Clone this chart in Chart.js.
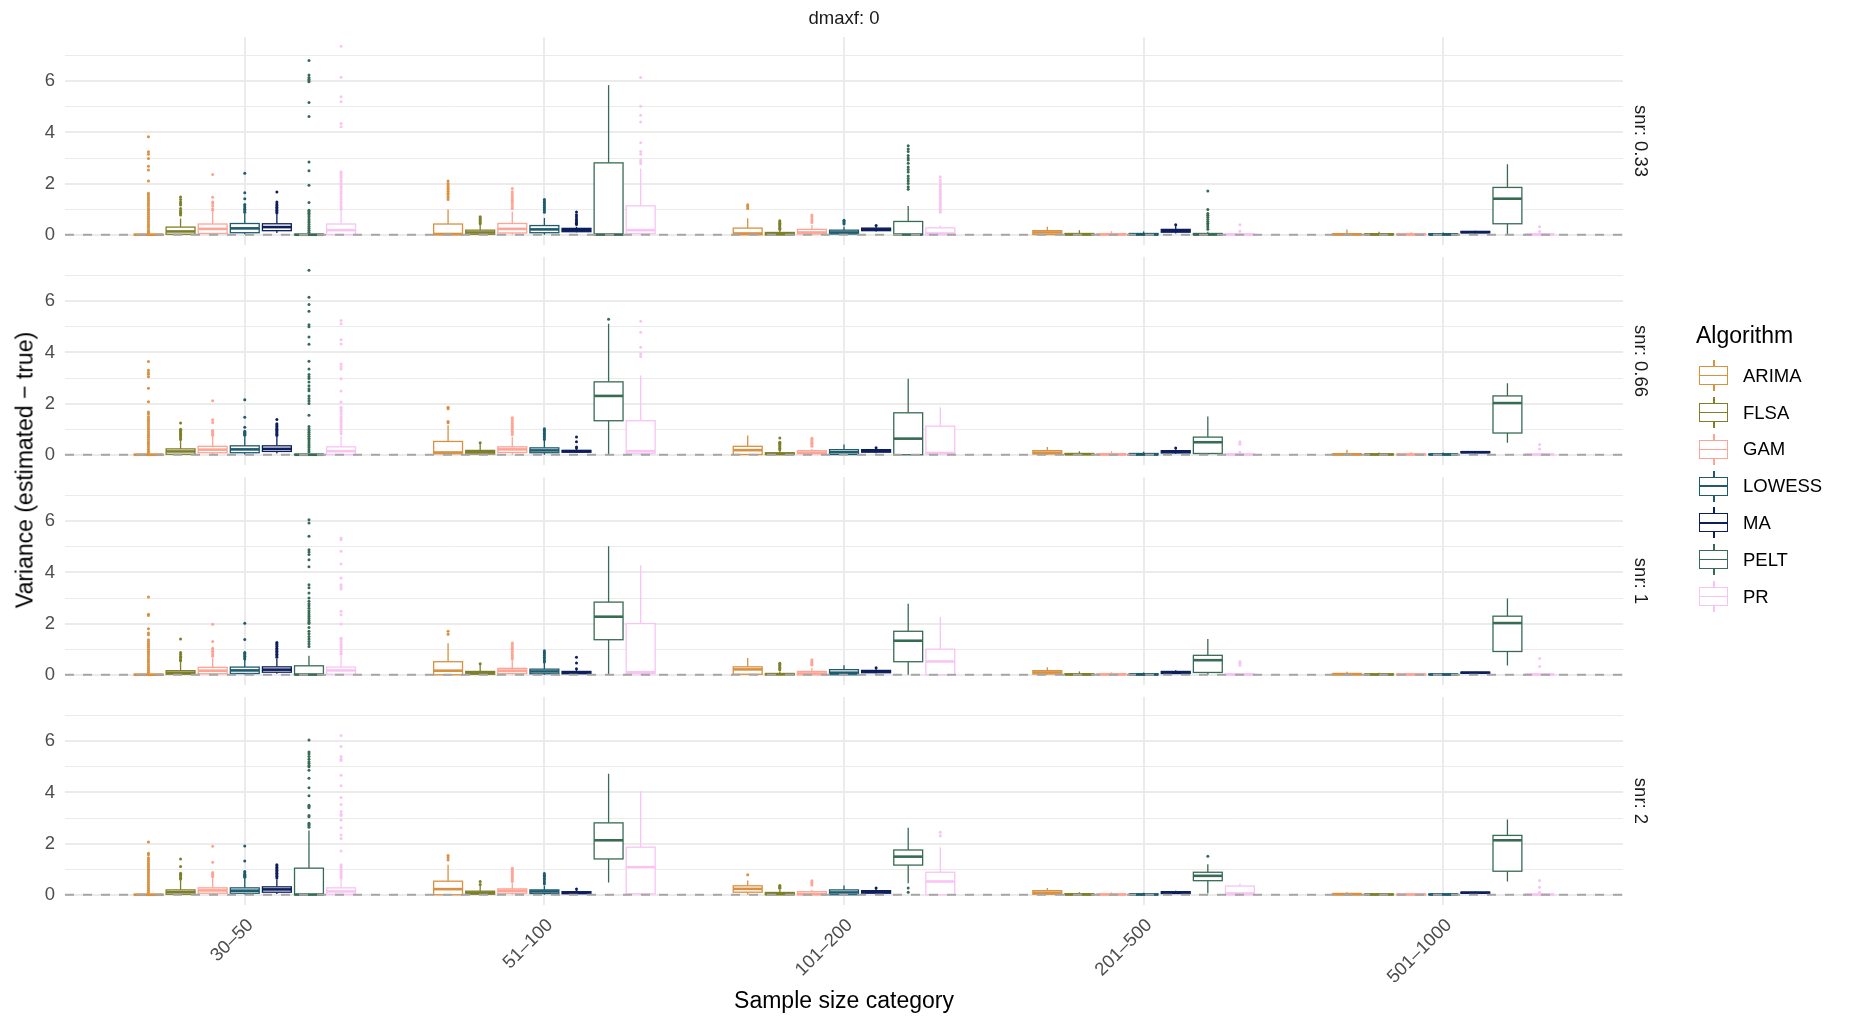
<!DOCTYPE html>
<html>
<head>
<meta charset="utf-8">
<script src="https://cdn.jsdelivr.net/npm/chart.js@4.4.1/dist/chart.umd.min.js"></script>
<style>
  body { margin: 0; background: #fff; width: 1850px; height: 1019px; overflow: hidden; position: relative;
         font-family: 'Liberation Sans', Arial, sans-serif; }
  .panel { position: absolute; left: 0; width: 1850px; }
  .txt { position: absolute; white-space: nowrap; line-height: 1; }
  .strip { position: absolute; writing-mode: vertical-rl; transform: translate(-50%, -50%);
           font-size: 18.5px; color: #1A1A1A; white-space: nowrap; line-height: 1; }
  .key { position: absolute; width: 29px; height: 31px; }
  .key div { position: absolute; box-sizing: border-box; }
</style>
</head>
<body>
<div id="panels"></div>

<div class="txt" style="left:65px;width:1558px;text-align:center;top:9px;font-size:18.5px;color:#1A1A1A">dmaxf: 0</div>
<div class="txt" style="left:25px;top:470px;transform:translate(-50%,-50%) rotate(-90deg);font-size:23px;color:#000">Variance (estimated − true)</div>
<div class="txt" style="left:844px;top:1000px;transform:translate(-50%,-50%);font-size:23px;color:#000">Sample size category</div>
<div class="txt" style="left:1696px;top:335px;transform:translate(0,-50%);font-size:23px;color:#000">Algorithm</div>
<div id="legend"></div>

<script>
// sample size categories (x) and facet rows
const sizeCats = ['30–50', '51–100', '101–200', '201–500', '501–1000'];
const snrLevels = ['0.33', '0.66', '1', '2'];
const algorithms = ['ARIMA', 'FLSA', 'GAM', 'LOWESS', 'MA', 'PELT', 'PR'];
const palette = ['#D9913F', '#7F7F2B', '#FFA494', '#1D5B6E', '#0D1E5C', '#386B54', '#F8C4F3'];
const yTicks = [0, 2, 4, 6];
const yMinor = [1, 3, 5, 7];

// box stats per algorithm: [snr row][size cat] = [lower whisker, q1, median, q3, upper whisker]
const boxARIMA = [
  [[0, 0, 0, 0.02, 0.05], [0, 0, 0.03, 0.42, 0.99], [0, 0, 0.05, 0.26, 0.65], [0, 0.01, 0.09, 0.16, 0.31], [0, 0, 0.01, 0.04, 0.21]],
  [[0, 0, 0, 0.02, 0.05], [0, 0.04, 0.09, 0.52, 1.15], [0, 0.01, 0.18, 0.33, 0.75], [0, 0.03, 0.08, 0.16, 0.3], [0, 0, 0.01, 0.04, 0.2]],
  [[0, 0, 0, 0.02, 0.05], [0, 0, 0.16, 0.51, 1.23], [0, 0.02, 0.21, 0.31, 0.66], [0, 0.03, 0.09, 0.16, 0.29], [0, 0, 0.02, 0.05, 0.12]],
  [[0, 0, 0, 0.02, 0.05], [0, 0, 0.22, 0.53, 1.17], [0, 0.1, 0.23, 0.35, 0.56], [0, 0.02, 0.08, 0.16, 0.26], [0, 0, 0.02, 0.05, 0.1]]
];
const boxFLSA = [
  [[0, 0.02, 0.13, 0.3, 0.64], [0, 0.02, 0.09, 0.18, 0.38], [0, 0, 0.02, 0.09, 0.18], [0, 0, 0.01, 0.05, 0.18], [0, 0, 0.01, 0.04, 0.12]],
  [[0, 0.02, 0.13, 0.23, 0.56], [0, 0.03, 0.1, 0.17, 0.43], [0, 0.01, 0.03, 0.08, 0.15], [0, 0.01, 0.02, 0.05, 0.14], [0, 0, 0.01, 0.03, 0.09]],
  [[0, 0.02, 0.08, 0.16, 0.52], [0, 0.02, 0.07, 0.13, 0.39], [0, 0, 0.02, 0.05, 0.13], [0, 0, 0.01, 0.04, 0.13], [0, 0, 0.01, 0.03, 0.08]],
  [[0, 0.02, 0.1, 0.19, 0.58], [0, 0.02, 0.08, 0.14, 0.36], [0, 0, 0.03, 0.09, 0.2], [0, 0, 0.01, 0.04, 0.1], [0, 0, 0.01, 0.03, 0.07]]
];
const boxGAM = [
  [[0, 0.05, 0.23, 0.42, 0.9], [0, 0.07, 0.23, 0.44, 0.9], [0, 0.03, 0.09, 0.21, 0.38], [0, 0, 0.01, 0.04, 0.14], [0, 0, 0.01, 0.04, 0.1]],
  [[0, 0.08, 0.2, 0.33, 0.69], [0, 0.09, 0.21, 0.31, 0.69], [0, 0.04, 0.08, 0.16, 0.23], [0, 0, 0.01, 0.04, 0.14], [0, 0, 0.01, 0.03, 0.1]],
  [[0, 0.04, 0.16, 0.29, 0.65], [0, 0.05, 0.16, 0.25, 0.56], [0, 0, 0.05, 0.13, 0.26], [0, 0, 0.01, 0.04, 0.1], [0, 0, 0.01, 0.03, 0.07]],
  [[0, 0.06, 0.17, 0.27, 0.65], [0, 0.06, 0.16, 0.23, 0.45], [0, 0, 0.03, 0.12, 0.19], [0, 0, 0.01, 0.03, 0.1], [0, 0, 0.01, 0.03, 0.06]]
];
const boxLOWESS = [
  [[0.02, 0.08, 0.25, 0.44, 0.83], [0, 0.08, 0.21, 0.36, 0.66], [0, 0.03, 0.09, 0.18, 0.31], [0, 0, 0.01, 0.05, 0.13], [0, 0, 0.01, 0.04, 0.09]],
  [[0.01, 0.08, 0.21, 0.35, 0.72], [0, 0.08, 0.17, 0.27, 0.56], [0, 0.01, 0.1, 0.2, 0.4], [0, 0, 0.01, 0.05, 0.12], [0, 0, 0.01, 0.03, 0.09]],
  [[0.01, 0.05, 0.17, 0.3, 0.59], [0, 0.04, 0.13, 0.22, 0.46], [0, 0, 0.08, 0.2, 0.37], [0, 0, 0.01, 0.04, 0.09], [0, 0, 0.01, 0.03, 0.07]],
  [[0.01, 0.06, 0.16, 0.27, 0.65], [0, 0.05, 0.13, 0.19, 0.36], [0, 0, 0.09, 0.19, 0.36], [0, 0, 0.01, 0.03, 0.08], [0, 0, 0.01, 0.03, 0.06]]
];
const boxMA = [
  [[0.07, 0.16, 0.3, 0.43, 0.8], [0.1, 0.12, 0.18, 0.25, 0.31], [0.13, 0.16, 0.21, 0.26, 0.31], [0.05, 0.1, 0.16, 0.21, 0.34], [0.05, 0.08, 0.1, 0.13, 0.16]],
  [[0.05, 0.13, 0.23, 0.35, 0.69], [0.07, 0.1, 0.14, 0.17, 0.23], [0.06, 0.1, 0.16, 0.2, 0.23], [0.04, 0.07, 0.12, 0.16, 0.22], [0.05, 0.08, 0.1, 0.12, 0.14]],
  [[0.04, 0.1, 0.2, 0.31, 0.62], [0.03, 0.04, 0.09, 0.13, 0.2], [0.05, 0.08, 0.13, 0.17, 0.23], [0.03, 0.05, 0.09, 0.13, 0.18], [0.04, 0.06, 0.08, 0.1, 0.12]],
  [[0.03, 0.1, 0.21, 0.31, 0.6], [0.03, 0.04, 0.08, 0.12, 0.19], [0.03, 0.06, 0.12, 0.16, 0.23], [0.03, 0.05, 0.09, 0.12, 0.16], [0.04, 0.06, 0.08, 0.1, 0.13]]
];
const boxPELT = [
  [[0, 0, 0, 0.02, 0.05], [0, 0, 0.01, 2.81, 5.85], [0, 0, 0.01, 0.52, 1.12], [0, 0, 0.01, 0.05, 0.12], [0.03, 0.43, 1.41, 1.85, 2.76]],
  [[0, 0, 0, 0.02, 0.05], [0, 1.33, 2.3, 2.85, 5.12], [0, 0, 0.63, 1.64, 2.97], [0, 0.05, 0.49, 0.69, 1.5], [0.47, 0.85, 2.02, 2.3, 2.8]],
  [[0, 0, 0.01, 0.35, 0.74], [0, 1.37, 2.27, 2.84, 5.02], [0, 0.51, 1.33, 1.7, 2.78], [0, 0.09, 0.57, 0.76, 1.4], [0.36, 0.91, 2.02, 2.29, 2.98]],
  [[0, 0, 0.01, 1.04, 2.51], [0.48, 1.4, 2.13, 2.81, 4.73], [0.45, 1.16, 1.49, 1.75, 2.62], [0.05, 0.55, 0.74, 0.88, 1.19], [0.52, 0.92, 2.13, 2.32, 2.94]]
];
const boxPR = [
  [[0, 0.01, 0.18, 0.42, 0.95], [0, 0.05, 0.18, 1.13, 2.59], [0, 0, 0.05, 0.27, 0.36], [0, 0, 0.01, 0.03, 0.07], [0, 0, 0.01, 0.03, 0.06]],
  [[0, 0.01, 0.14, 0.31, 0.72], [0, 0.05, 0.14, 1.33, 3.1], [0, 0.04, 0.07, 1.12, 1.86], [0, 0, 0.01, 0.03, 0.07], [0, 0, 0.01, 0.02, 0.05]],
  [[0, 0.02, 0.17, 0.3, 0.72], [0, 0.04, 0.1, 2.0, 4.28], [0, 0, 0.52, 1.0, 2.26], [0, 0, 0.01, 0.03, 0.05], [0, 0, 0.01, 0.02, 0.05]],
  [[0, 0.02, 0.13, 0.27, 0.62], [0, 0.04, 1.08, 1.86, 4.05], [0, 0, 0.52, 0.88, 1.86], [0, 0, 0.05, 0.34, 0.44], [0, 0, 0.01, 0.02, 0.05]]
];

// outliers per algorithm: [snr row][size cat] = values
const outARIMA = [
  [[3.83, 3.24, 3.15, 2.98, 2.68, 2.53, 2.1, 1.62, 1.55, 1.48, 1.4, 1.33, 1.25, 1.18, 1.1, 1.02, 0.95, 0.88, 0.8, 0.72, 0.65, 0.58, 0.5, 0.42, 0.35, 0.28, 0.2, 0.13, 0.08],
   [2.1, 2.0, 1.93, 1.85, 1.78, 1.7, 1.62, 1.55, 1.47, 1.38], [1.17, 1.1, 1.03], [], []],
  [[3.65, 3.3, 3.22, 3.15, 3.05, 2.6, 2.07, 1.67, 1.6, 1.5, 1.42, 1.35, 1.28, 1.2, 1.12, 1.05, 0.98, 0.9, 0.82, 0.75, 0.68, 0.6, 0.52, 0.45, 0.38, 0.3, 0.22, 0.15, 0.08],
   [1.86, 1.8, 1.3, 1.25], [], [], []],
  [[3.04, 2.37, 2.32, 1.8, 1.63, 1.56, 1.37, 1.3, 1.22, 1.15, 1.08, 1.0, 0.92, 0.85, 0.78, 0.7, 0.62, 0.55, 0.48, 0.4, 0.32, 0.25, 0.18, 0.1],
   [1.7, 1.58], [], [], []],
  [[2.06, 1.62, 1.56, 1.45, 1.38, 1.3, 1.22, 1.15, 1.08, 1.0, 0.93, 0.86, 0.78, 0.7, 0.62, 0.55, 0.48, 0.4, 0.32, 0.25, 0.18, 0.1],
   [1.53, 1.46, 1.36], [0.78], [], []]
];
const outFLSA = [
  [[1.48, 1.38, 1.28, 1.22, 1.16, 1.03, 0.94, 0.88, 0.83, 0.77], [0.7, 0.66, 0.6, 0.55, 0.48, 0.43], [0.55, 0.5, 0.45, 0.4, 0.35, 0.3, 0.25, 0.21], [], []],
  [[1.24, 1.0, 0.95, 0.9, 0.85, 0.8, 0.75, 0.7, 0.64, 0.6], [0.47], [0.66, 0.49, 0.45, 0.4, 0.35, 0.3, 0.25, 0.2], [], []],
  [[1.4, 0.87, 0.8, 0.72, 0.68, 0.62, 0.58, 0.55], [0.43], [0.45, 0.4, 0.35, 0.3, 0.25, 0.2], [], []],
  [[1.4, 1.1, 0.84, 0.8, 0.75, 0.7, 0.65, 0.62], [0.52, 0.4], [0.36, 0.32, 0.28, 0.25], [], []]
];
const outGAM = [
  [[2.36, 1.47, 1.28, 1.22, 1.12, 1.02, 0.96], [1.81, 1.68, 1.58, 1.5, 1.42, 1.35, 1.28, 1.2, 1.1, 1.03], [0.77, 0.7, 0.62, 0.55, 0.48], [], []],
  [[2.11, 1.37, 1.26, 0.95, 0.9, 0.85, 0.8, 0.75], [1.45, 1.38, 1.3, 1.22, 1.15, 1.08, 1.0, 0.92, 0.85, 0.78], [0.65, 0.6, 0.55, 0.5, 0.45, 0.4, 0.33], [], []],
  [[1.97, 1.3, 1.04, 0.98, 0.92, 0.85, 0.78, 0.72], [1.24, 1.18, 1.1, 1.04, 0.98, 0.9, 0.82, 0.75, 0.68, 0.62], [0.59, 0.52, 0.47, 0.42, 0.38], [], []],
  [[1.9, 1.27, 0.87, 0.82, 0.78, 0.74, 0.7], [1.04, 0.98, 0.92, 0.85, 0.78, 0.72, 0.65, 0.58, 0.52], [0.55, 0.48, 0.42, 0.38], [], []]
];
const outLOWESS = [
  [[2.4, 1.64, 1.41, 1.18, 1.12, 1.06, 1.0, 0.94, 0.88], [1.38, 1.32, 1.26, 1.2, 1.14, 1.08, 1.02, 0.95, 0.88], [0.57, 0.52, 0.47, 0.42], [], []],
  [[2.15, 1.47, 1.08, 0.92, 0.88, 0.84, 0.8, 0.76], [1.02, 0.96, 0.9, 0.84, 0.78, 0.72, 0.66, 0.6], [], [], []],
  [[2.01, 1.38, 0.87, 0.83, 0.78, 0.72, 0.66, 0.62], [0.94, 0.88, 0.82, 0.75, 0.68, 0.62, 0.55, 0.5], [], [], []],
  [[1.91, 1.32, 0.91, 0.86, 0.8, 0.76, 0.72, 0.68], [0.83, 0.76, 0.7, 0.64, 0.58, 0.5, 0.43], [], [], []]
];
const outMA = [
  [[1.67, 1.28, 1.2, 1.14, 1.08, 1.02, 0.96, 0.9, 0.85], [0.89, 0.78, 0.7, 0.62, 0.56, 0.5, 0.45, 0.4], [0.36], [0.39], []],
  [[1.38, 1.21, 1.16, 1.1, 1.05, 1.0, 0.95, 0.9, 0.85, 0.8, 0.75], [0.69, 0.51, 0.3, 0.26], [0.27], [0.26], []],
  [[1.26, 1.21, 1.16, 1.1, 1.04, 0.98, 0.92, 0.86, 0.8, 0.74, 0.68], [0.68, 0.46, 0.24], [0.27], [], []],
  [[1.17, 1.12, 1.07, 1.02, 0.96, 0.9, 0.84, 0.78, 0.72, 0.66], [0.23], [0.26], [], []]
];
const outPELT = [
  [[6.81, 6.24, 6.15, 6.08, 6.02, 5.98, 5.17, 4.62, 2.84, 2.5, 1.94, 1.26, 0.96, 0.9, 0.84, 0.78, 0.7, 0.62, 0.55, 0.48, 0.4, 0.32, 0.25, 0.18, 0.1],
   [], [3.48, 3.35, 3.25, 3.1, 3.0, 2.92, 2.8, 2.65, 2.55, 2.45, 2.3, 2.2, 2.1, 2.0, 1.88, 1.78], [1.71, 0.99, 0.83, 0.76, 0.68, 0.6, 0.52, 0.45, 0.38, 0.3, 0.22], []],
  [[7.21, 6.16, 5.87, 5.61, 5.08, 5.0, 4.6, 4.32, 3.66, 3.35, 3.14, 3.05, 2.98, 2.84, 2.7, 2.58, 2.5, 2.3, 2.2, 2.1, 2.0, 1.54, 1.1, 1.02, 0.95, 0.88, 0.8, 0.72, 0.65, 0.58, 0.5, 0.42, 0.35, 0.28, 0.2, 0.12],
   [5.3], [], [], []],
  [[6.06, 5.93, 5.41, 4.89, 4.8, 4.7, 4.5, 4.22, 3.52, 3.4, 3.2, 3.0, 2.87, 2.78, 2.7, 2.6, 2.5, 2.42, 2.35, 2.28, 2.2, 2.12, 2.05, 2.0, 1.85, 1.7, 1.6, 1.5, 1.4, 1.3, 1.2, 1.1],
   [], [], [], []],
  [[6.05, 5.58, 5.5, 5.4, 5.3, 5.2, 5.13, 5.05, 5.0, 4.87, 4.55, 4.18, 3.87, 3.5, 3.45, 3.4, 3.1, 3.05, 2.8, 2.75, 2.7, 2.64],
   [], [0.26, 0.1], [1.51], []]
];
const outPR = [
  [[7.37, 6.16, 5.39, 5.2, 4.35, 4.22, 2.46, 2.4, 2.32, 2.25, 2.18, 2.1, 2.02, 1.95, 1.87, 1.78, 1.68, 1.6, 1.5, 1.4, 1.3, 1.22, 1.12, 1.05, 1.0],
   [6.15, 5.02, 4.67, 4.41, 3.6, 3.25, 3.15, 2.92, 2.85, 2.78],
   [2.27, 2.15, 2.05, 1.95, 1.87, 1.78, 1.7, 1.62, 1.55, 1.48, 1.4, 1.32, 1.25, 1.18, 1.1, 1.02, 0.95, 0.88], [0.39, 0.14], [0.31, 0.13]],
  [[5.25, 5.12, 4.5, 4.33, 3.55, 3.45, 3.35, 2.97, 2.49, 2.06, 1.86, 1.78, 1.7, 1.6, 1.5, 1.42, 1.35, 1.28, 1.2, 1.12, 1.05, 0.98, 0.9, 0.82],
   [5.22, 4.79, 4.2, 3.95, 3.84], [], [0.51, 0.46, 0.41, 0.1], [0.4, 0.23]],
  [[5.35, 5.28, 4.83, 4.33, 3.78, 3.52, 3.45, 3.35, 2.48, 2.35, 1.98, 1.43, 1.38, 1.3, 1.22, 1.15, 1.08, 1.0, 0.92, 0.85, 0.8],
   [], [], [0.52, 0.45, 0.37], [0.64, 0.32]],
  [[6.23, 5.8, 5.4, 5.3, 5.25, 4.67, 4.26, 3.8, 3.53, 3.25, 3.15, 3.1, 2.92, 2.62, 2.34, 2.2, 1.71, 1.17, 1.1, 1.05, 0.98, 0.92, 0.85, 0.78, 0.72, 0.66],
   [], [2.44, 2.31], [], [0.56, 0.29, 0.1]]
];

const boxStats = [boxARIMA, boxFLSA, boxGAM, boxLOWESS, boxMA, boxPELT, boxPR];
const outStats = [outARIMA, outFLSA, outGAM, outLOWESS, outMA, outPELT, outPR];

Chart.defaults.font.family = "'Liberation Sans', Arial, sans-serif";

const dodgeWidth = 0.75;
const boxHalf = dodgeWidth / algorithms.length * 0.9 / 2;
const panelTops = [37, 257, 477, 697];
const panelHeight = 208;
const padTop = 15;

function slot(a) {
  return -dodgeWidth / 2 + (a + 0.5) * dodgeWidth / algorithms.length;
}

function isLast(p) {
  return p === snrLevels.length - 1;
}

function boxPlugin(p) {
  return {
    id: 'boxes' + p,
    beforeDatasetsDraw(chart) {
      const { ctx, scales: { x, y } } = chart;
      ctx.save();
      algorithms.forEach((name, a) => {
        boxStats[a][p].forEach((s, c) => {
          const xc = c + slot(a);
          const xl = x.getPixelForValue(xc - boxHalf);
          const xr = x.getPixelForValue(xc + boxHalf);
          const xm = x.getPixelForValue(xc);
          const [lo, q1, med, q3, hi] = s.map(v => y.getPixelForValue(v));
          ctx.strokeStyle = palette[a];
          ctx.lineWidth = 1.3;
          ctx.beginPath();
          ctx.moveTo(xm, lo); ctx.lineTo(xm, q1);
          ctx.moveTo(xm, q3); ctx.lineTo(xm, hi);
          ctx.stroke();
          ctx.fillStyle = '#fff';
          ctx.fillRect(xl, q3, xr - xl, q1 - q3);
          ctx.strokeRect(xl, q3, xr - xl, q1 - q3);
          ctx.lineWidth = 2.6;
          ctx.beginPath();
          ctx.moveTo(xl, med); ctx.lineTo(xr, med);
          ctx.stroke();
        });
      });
      ctx.restore();
    },
    afterDatasetsDraw(chart) {
      const { ctx, chartArea, scales: { y } } = chart;
      const y0 = y.getPixelForValue(0);
      ctx.save();
      ctx.strokeStyle = '#A6A6A6';
      ctx.lineWidth = 2;
      ctx.setLineDash([9, 9]);
      ctx.beginPath();
      ctx.moveTo(chartArea.left, y0);
      ctx.lineTo(chartArea.right, y0);
      ctx.stroke();
      ctx.restore();
    },
    afterDraw(chart) {
      if (!isLast(p)) return;
      const { ctx, chartArea, scales: { x } } = chart;
      ctx.save();
      ctx.font = "18.5px 'Liberation Sans', Arial, sans-serif";
      ctx.fillStyle = '#4D4D4D';
      ctx.textAlign = 'right';
      ctx.textBaseline = 'middle';
      sizeCats.forEach((label, i) => {
        ctx.save();
        ctx.translate(x.getPixelForValue(i) + 5.6, chartArea.bottom + 17.3);
        ctx.rotate(-Math.PI / 4);
        ctx.fillText(label, 0, 0);
        ctx.restore();
      });
      ctx.restore();
    }
  };
}

function createPanel(p) {
  const padBottom = isLast(p) ? 90 : 20;
  const holder = document.createElement('div');
  holder.className = 'panel';
  holder.style.top = (panelTops[p] - padTop) + 'px';
  holder.style.height = (panelHeight + padTop + padBottom) + 'px';
  const canvas = document.createElement('canvas');
  holder.appendChild(canvas);
  document.getElementById('panels').appendChild(holder);

  const datasets = algorithms.map((name, a) => ({
    label: name,
    data: outStats[a][p].flatMap((vals, c) => vals.map(v => ({ x: c + slot(a), y: v }))),
    pointRadius: 1.5,
    pointBackgroundColor: palette[a],
    pointBorderWidth: 0,
    showLine: false
  }));

  return new Chart(canvas.getContext('2d'), {
    type: 'scatter',
    data: { datasets: datasets },
    options: {
      responsive: true,
      maintainAspectRatio: false,
      devicePixelRatio: 1,
      animation: false,
      layout: { padding: { left: 0, right: 227, top: padTop, bottom: padBottom } },
      plugins: { legend: { display: false }, tooltip: { enabled: false } },
      scales: {
        x: {
          type: 'linear',
          min: -0.6,
          max: 4.6,
          afterBuildTicks: s => { s.ticks = sizeCats.map((c, i) => ({ value: i })); },
          afterFit: s => { s.height = 0; s.paddingLeft = 0; s.paddingRight = 0; },
          grid: { color: '#EBEBEB', lineWidth: 2, drawTicks: false },
          border: { display: false },
          ticks: { display: false }
        },
        y: {
          min: -0.4,
          max: 7.73,
          afterBuildTicks: s => { s.ticks = yTicks.concat(yMinor).sort((a, b) => a - b).map(v => ({ value: v })); },
          afterFit: s => { s.width = 65; s.paddingTop = 0; s.paddingBottom = 0; },
          grid: {
            color: '#EBEBEB',
            lineWidth: c => (yTicks.includes(c.tick.value) ? 2 : 1),
            drawTicks: false
          },
          border: { display: false },
          ticks: {
            padding: 10,
            color: '#4D4D4D',
            font: { size: 18.5 },
            callback: v => (yTicks.includes(v) ? String(v) : '')
          }
        }
      }
    },
    plugins: [boxPlugin(p)]
  });
}

function buildText() {
  snrLevels.forEach((s, p) => {
    const d = document.createElement('div');
    d.className = 'strip';
    d.style.left = '1641px';
    d.style.top = (panelTops[p] + panelHeight / 2) + 'px';
    d.textContent = 'snr: ' + s;
    document.body.appendChild(d);
  });

  const legend = document.getElementById('legend');
  algorithms.forEach((name, a) => {
    const cy = 375.7 + a * 36.8;
    const col = palette[a];
    const key = document.createElement('div');
    key.className = 'key';
    key.style.left = '1699px';
    key.style.top = (cy - 15.5) + 'px';
    key.innerHTML =
      `<div style="left:14px;top:0;width:1.5px;height:31px;background:${col}"></div>` +
      `<div style="left:0;top:6px;width:29px;height:19px;border:1.5px solid ${col};background:#fff"></div>` +
      `<div style="left:0;top:14.8px;width:29px;height:1.5px;background:${col}"></div>`;
    legend.appendChild(key);
    const lab = document.createElement('div');
    lab.className = 'txt';
    lab.style.left = '1743px';
    lab.style.top = cy + 'px';
    lab.style.transform = 'translate(0,-50%)';
    lab.style.fontSize = '18.5px';
    lab.style.color = '#000';
    lab.textContent = name;
    legend.appendChild(lab);
  });
}

document.addEventListener('DOMContentLoaded', function() {
  buildText();
  snrLevels.forEach((s, p) => createPanel(p));
});
</script>
</body>
</html>
